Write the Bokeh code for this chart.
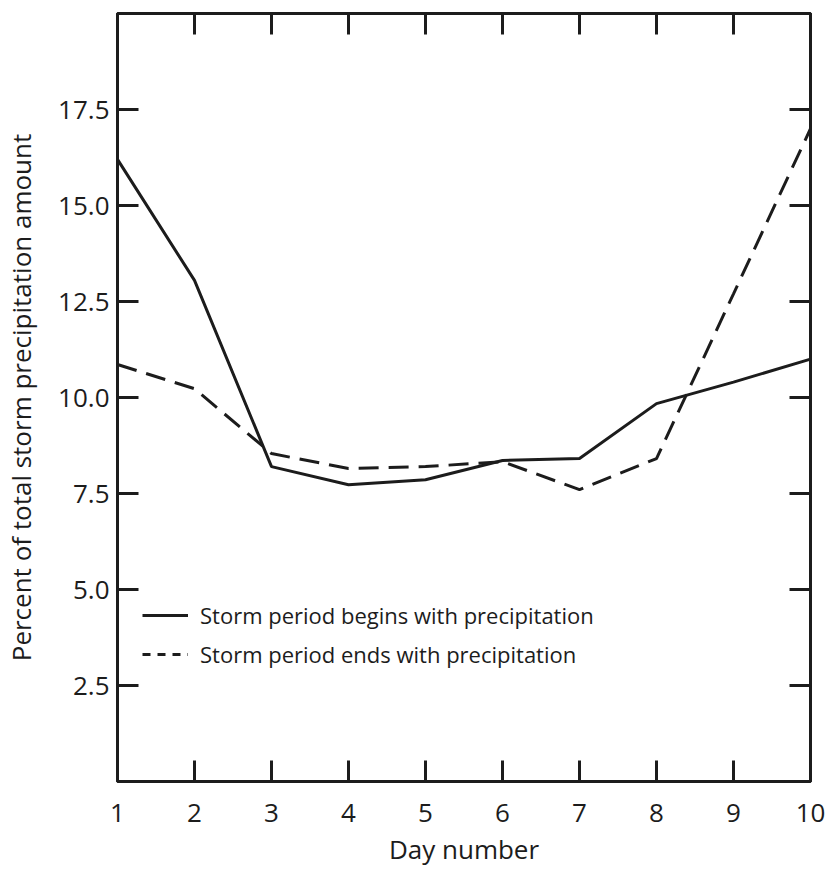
from bokeh.plotting import figure
from bokeh.models import (Range1d, FixedTicker, LinearAxis, PrintfTickFormatter,
                          Legend, LegendItem)
from bokeh.embed import file_html
from bokeh.resources import INLINE

# ---- data ----
days = [1, 2, 3, 4, 5, 6, 7, 8, 9, 10]
begins_with_precip = [16.2, 13.05, 8.2, 7.73, 7.86, 8.36, 8.41, 9.84, 10.4, 11.0]
ends_with_precip = [10.86, 10.23, 8.54, 8.15, 8.2, 8.33, 7.6, 8.41, 12.7, 17.0]
y_ticks = [2.5, 5.0, 7.5, 10.0, 12.5, 15.0, 17.5]
x_label = "Day number"
y_label = "Percent of total storm precipitation amount"
label_begins = "Storm period begins with precipitation"
label_ends = "Storm period ends with precipitation"

INK = "#1c1c1c"
FONT = "Open Sans"
NAN = float("nan")

p = figure(frame_width=693, frame_height=768, output_backend="svg", toolbar_location=None,
           x_range=Range1d(1, 10), y_range=Range1d(0, 20),
           min_border_left=116, min_border_right=27, min_border_top=13,
           min_border_bottom=84, x_axis_location="below", y_axis_location="left")
p.grid.visible = False
p.background_fill_color = "white"
p.border_fill_color = "white"
p.outline_line_color = INK
p.outline_line_width = 3

def style_axis(ax, labels=True):
    ax.axis_line_color = INK
    ax.axis_line_width = 3
    ax.major_tick_line_color = INK
    ax.major_tick_line_width = 3
    ax.major_tick_in = 21
    ax.major_tick_out = 0
    ax.minor_tick_line_color = None
    if labels:
        ax.major_label_text_font = FONT
        ax.major_label_text_font_size = "26px"
        ax.major_label_text_color = INK
        ax.axis_label_text_font = FONT
        ax.axis_label_text_font_style = "normal"
        ax.axis_label_text_color = INK
    else:
        ax.major_label_text_font_size = "0px"
        ax.major_label_text_color = None
        ax.major_label_standoff = 0

xa = p.xaxis[0]
xa.ticker = FixedTicker(ticks=days)
style_axis(xa)
xa.major_label_standoff = 22
xa.axis_label = x_label
xa.axis_label_text_font_size = "26px"
xa.axis_label_standoff = 6

ya = p.yaxis[0]
ya.ticker = FixedTicker(ticks=y_ticks)
ya.formatter = PrintfTickFormatter(format="%.1f")
style_axis(ya)
ya.major_label_standoff = 8
ya.axis_label = y_label
ya.axis_label_text_font_size = "26px"
ya.axis_label_standoff = 16

top = LinearAxis(ticker=FixedTicker(ticks=days))
style_axis(top, labels=False)
p.add_layout(top, "above")
right = LinearAxis(ticker=FixedTicker(ticks=y_ticks))
style_axis(right, labels=False)
p.add_layout(right, "right")

p.line(days, begins_with_precip, line_color=INK, line_width=3)
p.line(days, ends_with_precip, line_color=INK, line_width=3, line_dash="20 10")

# legend swatches (carry no data of their own)
sw1 = p.line(x=[NAN], y=[NAN], line_color=INK, line_width=3)
sw2 = p.line(x=[NAN], y=[NAN], line_color=INK, line_width=3, line_dash="8 7")

legend = Legend(items=[LegendItem(label=label_begins, renderers=[sw1]),
                       LegendItem(label=label_ends, renderers=[sw2])],
                location=(25, 112), padding=0, margin=0, spacing=9,
                glyph_width=46, glyph_height=20, label_height=20,
                label_standoff=12, border_line_color=None,
                background_fill_alpha=0)
legend.label_text_font = FONT
legend.label_text_font_size = "22px"
legend.label_text_color = INK
p.add_layout(legend, "center")

open("out.html", "w").write(file_html(p, INLINE))
